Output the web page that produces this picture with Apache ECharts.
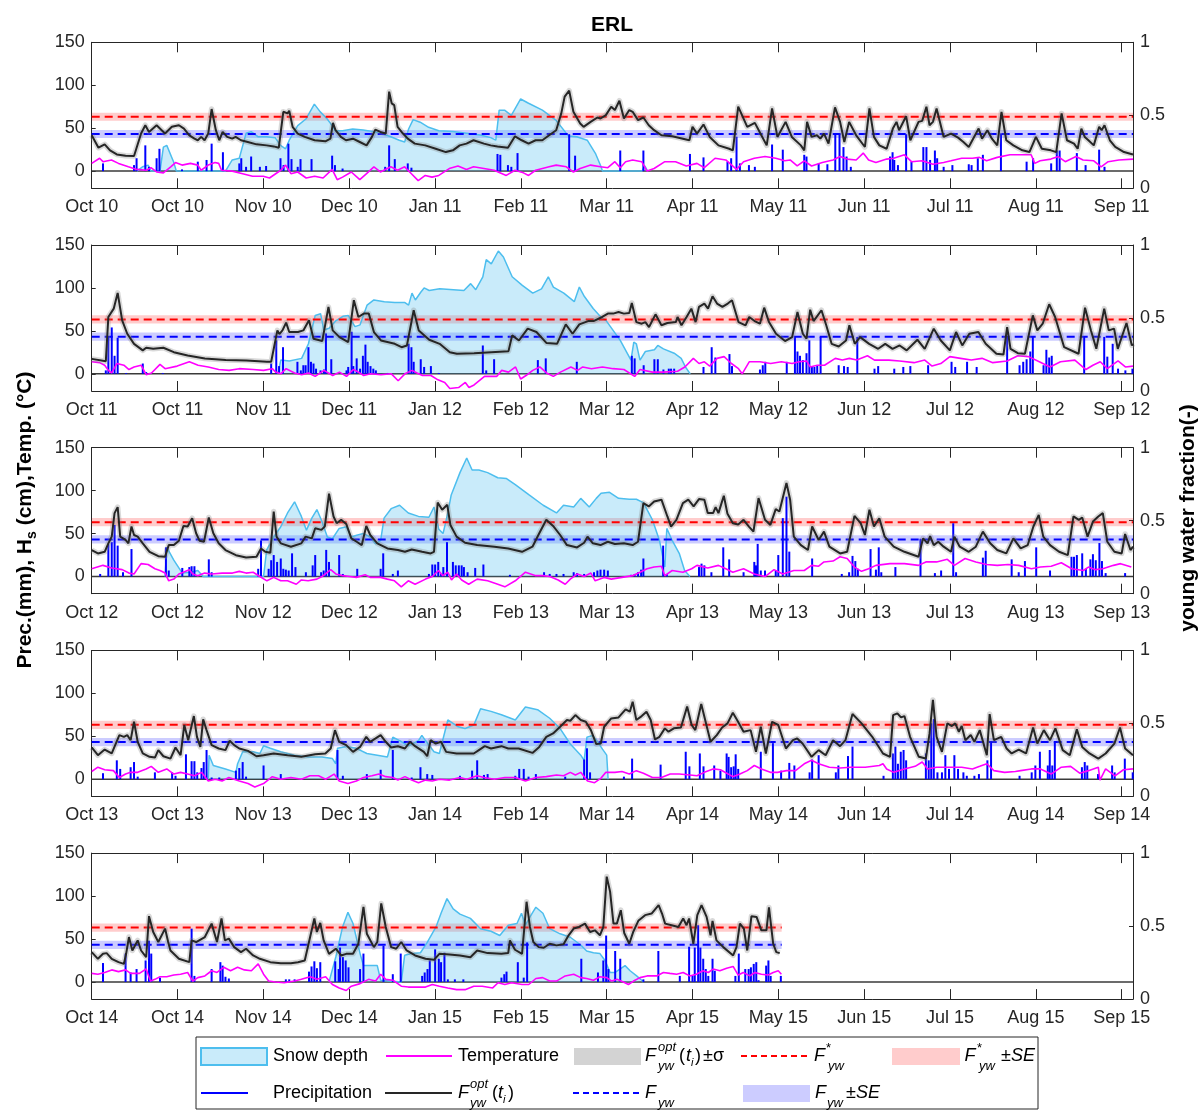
<!DOCTYPE html>
<html><head><meta charset="utf-8">
<script src="https://cdn.jsdelivr.net/npm/echarts@6.0.0/dist/echarts.min.js"></script>
<style>html,body{margin:0;padding:0;background:#fff}#c{width:1202px;height:1110px}</style>
</head><body><div id="c"></div><script>
// ---------- tick labels ----------
const labels1 = ['Oct 10','Oct 10','Nov 10','Dec 10','Jan 11','Feb 11','Mar 11','Apr 11','May 11','Jun 11','Jul 11','Aug 11','Sep 11'];
const labels2 = ['Oct 11','Oct 11','Nov 11','Dec 11','Jan 12','Feb 12','Mar 12','Apr 12','May 12','Jun 12','Jul 12','Aug 12','Sep 12'];
const labels3 = ['Oct 12','Oct 12','Nov 12','Dec 12','Jan 13','Feb 13','Mar 13','Apr 13','May 13','Jun 13','Jul 13','Aug 13','Sep 13'];
const labels4 = ['Oct 13','Oct 13','Nov 13','Dec 13','Jan 14','Feb 14','Mar 14','Apr 14','May 14','Jun 14','Jul 14','Aug 14','Sep 14'];
const labels5 = ['Oct 14','Oct 14','Nov 14','Dec 14','Jan 15','Feb 15','Mar 15','Apr 15','May 15','Jun 15','Jul 15','Aug 15','Sep 15'];
const leftTicks = [0, 50, 100, 150];
const rightTicks = [0, 0.5, 1];

// ---------- constant young water fractions ----------
const F_STAR = 0.49, F_STAR_SE = 0.028;
const F_YW = 0.372, F_YW_SE = 0.028;

// ---------- panel 1 (Oct 2010 - Sep 2011), x = day of hydrological year ----------
const fyw1 = [[0,0.363],[2.4,0.278],[4.6,0.301],[6.5,0.26],[8.9,0.232],[12,0.223],[15,0.221],[17.5,0.375],[19,0.432],[20.3,0.386],[23,0.432],[24.8,0.398],[26,0.375],[28.4,0.421],[30.9,0.432],[32.7,0.409],[34.6,0.363],[36.4,0.34],[37.6,0.329],[38.8,0.352],[40,0.329],[41.3,0.375],[42.5,0.543],[44,0.398],[45.2,0.329],[46.4,0.386],[48,0.352],[49.8,0.34],[51,0.352],[52.9,0.329],[55.3,0.317],[58.4,0.301],[62,0.294],[64.5,0.287],[66.3,0.278],[67.9,0.524],[69.4,0.513],[70,0.531],[71.2,0.421],[73,0.375],[75.5,0.352],[79,0.329],[82.8,0.322],[84.6,0.34],[85.5,0.448],[86.4,0.398],[88.3,0.352],[90.1,0.329],[92.6,0.34],[95,0.317],[97.4,0.294],[99.3,0.352],[100.5,0.402],[102.3,0.386],[104.2,0.375],[105.4,0.662],[106.3,0.582],[107.2,0.57],[108.4,0.421],[110.3,0.375],[112,0.34],[114.5,0.306],[118.2,0.294],[121.9,0.271],[125.5,0.248],[128,0.26],[130.4,0.294],[132.8,0.306],[135.3,0.329],[139,0.306],[141.4,0.294],[143.8,0.287],[147.5,0.278],[150,0.356],[152.4,0.329],[154.8,0.306],[157.3,0.329],[159.7,0.329],[162.1,0.363],[164.6,0.398],[166.4,0.513],[167.6,0.628],[169.2,0.669],[170.7,0.524],[173.1,0.444],[174.3,0.421],[176.8,0.455],[179.2,0.485],[180.3,0.478],[182.2,0.501],[184.1,0.559],[185.4,0.536],[187,0.6],[188.6,0.478],[190.5,0.536],[191.7,0.524],[193.6,0.467],[195.5,0.485],[197.4,0.432],[199.3,0.398],[201.9,0.363],[205.7,0.356],[209.5,0.34],[211.8,0.329],[212.9,0.421],[214.5,0.375],[216.8,0.437],[219,0.352],[222.1,0.294],[225.9,0.271],[227.2,0.26],[229.1,0.559],[232.3,0.421],[235,0.448],[237.3,0.363],[239.2,0.294],[241.1,0.547],[243,0.352],[245.9,0.455],[248.1,0.352],[251.3,0.294],[252.5,0.26],[253.5,0.455],[255.1,0.352],[257,0.363],[258.2,0.34],[259.5,0.375],[261.1,0.306],[263.4,0.554],[265.2,0.455],[266.7,0.317],[268.4,0.455],[270.9,0.363],[274,0.283],[275.6,0.547],[277.2,0.352],[279.1,0.294],[281.7,0.271],[283.9,0.409],[285.2,0.455],[286.1,0.398],[288.6,0.494],[290.1,0.329],[293,0.455],[294.3,0.462],[295.8,0.559],[296.9,0.432],[298.1,0.455],[299.4,0.547],[301.9,0.352],[304.5,0.375],[307,0.347],[308.9,0.317],[310.8,0.283],[314.3,0.409],[315.5,0.34],[317.4,0.398],[319,0.34],[320.9,0.294],[322.4,0.524],[324.1,0.329],[326.6,0.294],[329.8,0.26],[332.3,0.248],[334.6,0.352],[336.7,0.271],[339.9,0.26],[341.8,0.248],[343.7,0.513],[345.6,0.329],[348.1,0.306],[349.4,0.271],[350.7,0.409],[351.9,0.352],[353.2,0.329],[355.1,0.294],[357,0.421],[357.9,0.398],[358.9,0.432],[360.8,0.329],[362.7,0.283],[365.8,0.248],[369,0.232]];
const snow1 = [[16,0],[18,5],[20,7],[21,0],[24.2,0],[25.4,28],[26.6,30],[29,11],[30,0],[47.4,0],[49.8,13],[52.3,15],[54.7,44],[56.5,46],[59,40],[62,40],[65,39],[66.9,30],[68.7,26],[70,36],[73,53],[76,61],[78.9,78],[81,69],[83.4,61],[85.2,53],[86.4,47],[88.9,47],[92.5,49],[96.2,48],[99.9,46],[103.5,43],[106,40],[109,36],[110.9,34],[112.3,49],[113.9,60],[116.4,57],[119.4,51],[123,47],[128,46],[132.8,44],[137.7,42],[141.4,39],[143.2,36],[144.4,71],[146.3,71],[148.7,65],[152,84],[154.8,79],[159.7,71],[164.6,59],[168.9,41],[171.9,40],[175.6,36],[178.6,20],[180.5,5],[181,0],[195,0],[196,6],[197,0]];
const temp1 = [[0,9],[2.8,15],[4,11],[7,13],[9.5,9],[13,5],[16,2],[19.3,1],[21,4],[23,-1],[25.4,-2],[28,5],[29.7,10],[32,7],[35,9],[37.6,7],[38.8,1],[41.3,7],[43.7,10],[45,9],[46,1],[49.8,0],[53.5,-3],[57,-6],[60.8,-6],[63,-8],[67,1],[68.7,7],[70.6,-3],[73,-1],[76,-8],[79,-6],[82,-8],[85.2,2],[87,-10],[88.9,-7],[92,-1],[95,-10],[97.4,-3],[100,5],[102.3,-1],[106,5],[108.4,1],[110.9,5],[113.3,-3],[115.7,-11],[118.2,-5],[120.6,-7],[123,-5],[126.7,3],[129.8,6],[132.8,2],[135.3,5],[139,3],[142.6,1],[146.9,-5],[150,1],[153,-2],[154.8,-5],[157.3,1],[162.1,5],[164.6,7],[168.2,5],[170.7,-1],[173.1,3],[176.8,7],[180.3,5],[182.9,4],[185.4,11],[187.3,4],[189.2,11],[191.7,13],[194.9,11],[196.8,0],[199.3,3],[203.1,11],[206.9,11],[210.7,6],[214.5,9],[217.1,4],[220.9,15],[224.7,13],[228.5,2],[231,11],[234.8,15],[238.6,17],[242.4,15],[245.6,12],[247.5,13],[250,6],[252.5,12],[255.1,6],[258.9,10],[262.7,13],[265.2,17],[267.7,14],[270.9,13],[273.4,21],[275.3,13],[277.9,10],[281.7,14],[284.2,15],[288,19],[290.5,11],[294.3,12],[298.1,8],[301.9,10],[304.5,12],[308.3,15],[312.1,15],[314.6,16],[317.1,12],[320.9,16],[325.4,19],[329.8,19],[332.9,19],[334.2,9],[336.1,12],[339.9,14],[342.5,17],[345,11],[348.8,17],[351.3,13],[355.1,12],[357.7,5],[360.2,11],[364,13],[369,14]];
const prec1 = [[4,9],[15,7],[15.9,15],[19,30],[20.3,5],[23,15],[24,26],[32,2],[37.6,11],[40.7,13],[42.5,32],[46.5,22],[52.3,9],[53,15],[54.7,5],[56.5,17],[59.6,5],[61.8,6],[66.9,15],[68,7],[69.7,32],[70.8,14],[73,5],[74,14],[77.9,14],[85.2,18],[86.2,7],[88.9,3],[104,5],[105.4,30],[107.4,14],[112,9],[113.3,4],[143.8,20],[144.8,19],[147.5,7],[148.7,5],[150.9,21],[169.2,43],[171.3,18],[187.3,24],[195.5,24],[212,20],[216.8,16],[225.3,11],[226.6,15],[228.5,40],[229.7,9],[232.9,7],[235,5],[241.1,31],[244.9,25],[252.5,19],[253.3,17],[257.6,9],[260.7,8],[263.5,43],[265,43],[266.4,28],[267.5,17],[269,5],[282.9,17],[283.8,22],[284.4,13],[285.7,7],[288.6,43],[290.5,11],[294.7,28],[295.8,28],[297.1,13],[298.8,24],[299.6,15],[301.9,5],[305,7],[310.8,8],[311.8,7],[314,15],[315.8,19],[322.2,44],[331.3,11],[333.6,15],[340,9],[342,24],[343,24],[349.1,21],[352.2,7],[357,25],[358.9,5]];

// ---------- panel 2 (Oct 2011 - Sep 2012) ----------
const fyw2 = [[0,0.22],[5,0.204],[5.9,0.507],[7.8,0.564],[9.2,0.672],[10.8,0.484],[12.6,0.392],[15,0.323],[18.1,0.278],[19.3,0.296],[21.8,0.289],[25.4,0.296],[29.1,0.266],[34,0.243],[40.1,0.222],[47.5,0.213],[54.8,0.209],[62.1,0.2],[63.6,0.2],[65.8,0.415],[66.5,0.39],[67.6,0.415],[68.9,0.468],[70,0.404],[73.1,0.404],[75,0.415],[77,0.484],[78.6,0.358],[81.7,0.342],[83.9,0.576],[85.4,0.415],[87.8,0.369],[90.9,0.335],[92.9,0.622],[94.5,0.507],[96.4,0.53],[98.2,0.53],[100,0.404],[102.5,0.346],[107.4,0.323],[109.8,0.3],[111.7,0.312],[114.1,0.553],[115.9,0.415],[119.6,0.351],[123.3,0.323],[126.9,0.266],[129.4,0.255],[135.5,0.259],[141.6,0.266],[147.7,0.273],[149,0.381],[151.4,0.346],[154.5,0.427],[157.6,0.404],[161.2,0.328],[164.9,0.323],[168,0.456],[170.4,0.392],[172.8,0.456],[175.9,0.479],[178,0.48],[180.9,0.507],[182.9,0.53],[184.8,0.53],[186.7,0.541],[188.6,0.53],[190.5,0.534],[191.4,0.603],[193,0.472],[194.9,0.461],[196.2,0.472],[197.5,0.438],[199.8,0.525],[201.9,0.45],[204,0.466],[207,0.472],[207.6,0.507],[209,0.45],[210.8,0.507],[212.5,0.564],[214,0.472],[215.2,0.576],[217.1,0.599],[218.4,0.564],[220,0.649],[221.6,0.599],[223.5,0.576],[225.4,0.599],[226.9,0.622],[229.2,0.472],[231.7,0.45],[233,0.507],[234.9,0.479],[236.8,0.461],[238.3,0.571],[240,0.472],[242.5,0.392],[245.7,0.342],[248.2,0.369],[250.1,0.541],[252,0.392],[253.3,0.358],[254.6,0.557],[255.8,0.479],[258.6,0.553],[260.3,0.45],[262.2,0.323],[264.7,0.305],[267.3,0.346],[268.5,0.45],[270.4,0.323],[272.3,0.369],[275.5,0.323],[278.7,0.289],[281.2,0.323],[283.8,0.289],[286.3,0.312],[288.8,0.278],[292.6,0.351],[295.2,0.289],[298.4,0.427],[300.9,0.346],[304.1,0.278],[306.3,0.404],[308.5,0.312],[311,0.392],[314.2,0.404],[316.8,0.323],[320.6,0.255],[323.1,0.25],[324.4,0.438],[325.6,0.289],[328.2,0.259],[330.7,0.255],[333.5,0.518],[335.1,0.415],[337,0.461],[339.3,0.594],[341.4,0.507],[344.6,0.3],[349.7,0.255],[352,0.571],[354.1,0.415],[356,0.289],[358.8,0.564],[360.4,0.415],[362.3,0.427],[363.6,0.289],[366.7,0.466],[368.6,0.312],[369,0.323]];
const snow2 = [[66,0],[67,16],[70,15],[74.4,18],[76.8,35],[79.2,68],[81.1,70],[82.3,51],[84.1,53],[86.6,62],[89,67],[90.9,68],[93.3,55],[95.1,57],[97.6,80],[100,86],[103.7,84],[107.4,83],[111,83],[112.3,80],[113.5,94],[114.7,86],[116.6,95],[117.8,100],[119.6,97],[123.3,99],[128.2,98],[131.9,97],[134.3,105],[136.1,98],[138.6,113],[139.8,133],[141.6,128],[144.1,143],[145.9,136],[149,113],[152.6,103],[156.3,94],[159.4,99],[161.8,113],[163.6,101],[167.3,94],[171,84],[172.8,101],[174.6,90],[177.7,76],[180.5,66],[182.3,62],[187.3,39],[191.1,16],[192.1,37],[193,35],[194.3,16],[196.2,26],[199.4,28],[200.6,33],[202.6,29],[206.4,24],[208.9,18],[210.4,8],[212.1,0]];
const temp2 = [[0,14],[2.8,13],[4.6,10],[5.9,4],[7.1,1],[8.9,12],[11.4,10],[13.2,5],[15,8],[17.5,10],[19.3,-1],[21.2,1],[24.2,11],[26,6],[30.3,9],[34.6,14],[37.7,10],[41.3,8],[45,5],[48.7,4],[52.3,6],[57.2,5],[60.9,4],[64,6],[65.2,2],[67,0],[68.9,6],[71.9,1],[74.4,-1],[76.8,1],[79.2,-3],[82.3,4],[85.4,-2],[87.8,2],[90.3,-3],[92.7,5],[94.5,2],[96.4,-2],[98.8,0],[102.5,-1],[106.2,0],[108.6,-8],[111,0],[113.5,4],[115.3,1],[117.2,-2],[120.2,-2],[122.7,-7],[125.1,-10],[126.9,-17],[130,-16],[132.4,-10],[133.7,-16],[135.5,-13],[139.2,-3],[141.6,-3],[143.5,-3],[145.3,4],[147.7,2],[150.2,8],[152,-6],[153.9,-2],[156.3,4],[158.8,8],[161.2,1],[163.6,-3],[166.1,2],[169.8,8],[172.2,4],[174,8],[177.1,6],[181,8],[184.8,6],[188.6,5],[192.4,-3],[194.3,5],[198.7,2],[202.6,2],[207.6,3],[210.2,8],[213.2,18],[215.2,12],[217.1,14],[219,9],[221.6,18],[224.1,20],[226.7,12],[229.2,6],[230.5,0],[233,14],[236.8,14],[240.6,12],[244.4,14],[248.2,12],[250.7,14],[253.3,15],[254.6,8],[257.1,10],[259.7,10],[263.5,18],[266,16],[268.5,18],[271.1,16],[274.9,21],[277.4,16],[282.5,16],[286.3,15],[291.4,13],[295.2,16],[297.8,9],[300.9,12],[304.1,20],[307.9,18],[311.7,16],[315.5,18],[319.3,13],[324.4,15],[328.2,21],[332,20],[335.8,14],[339.6,8],[343.3,14],[348.4,16],[352.3,5],[354.8,10],[357.4,14],[359.9,6],[363.7,15],[366.3,8],[369,9]];
const prec2 = [[5,4],[5.9,43],[7.1,54],[8.1,21],[9.2,42],[12.2,1],[18.1,12],[19.3,2],[25.2,1],[63.6,12],[65.4,39],[66.4,9],[67.8,31],[72.9,14],[74.1,4],[75,10],[75.8,10],[76.8,31],[77.7,14],[78.6,12],[79.5,6],[81.1,4],[82.3,5],[83,47],[84.9,17],[90.3,4],[90.9,8],[92.1,49],[92.7,9],[93.9,18],[95.1,6],[96.1,21],[97,34],[97.8,14],[98.8,9],[99.8,6],[100.7,4],[104.9,1],[112.3,35],[113.3,31],[114.1,14],[116.6,17],[117.8,8],[120.2,9],[123,1],[138.6,33],[139.8,4],[142.6,17],[158.1,16],[160.9,18],[171.9,14],[191.4,21],[192.4,18],[195.6,10],[199.4,17],[200.6,17],[202.6,5],[204.5,6],[205.3,6],[206.4,6],[216.8,8],[219.7,31],[221,19],[226,23],[226.9,9],[236.8,5],[237.8,10],[238.7,14],[246.3,14],[249.2,43],[250.1,26],[251,21],[252,16],[253.3,24],[254.3,39],[255.2,8],[256.1,8],[257.1,10],[258.3,43],[264.7,10],[266.6,9],[267.9,8],[271.3,43],[277.4,6],[278.7,9],[284.4,6],[287.6,8],[290.1,9],[296.4,10],[304.7,14],[306,8],[310.2,14],[313.6,8],[324.4,43],[328.8,10],[330.1,14],[331.3,17],[332.6,26],[333.5,43],[337.3,10],[338.3,28],[339.3,19],[340.2,21],[351.7,43],[358.8,43],[359.9,20],[361.8,35],[363.7,6],[366.3,4],[368.8,6]];

// ---------- panel 3 (Oct 2012 - Sep 2013) ----------
const fyw3 = [[0,0.299],[2.2,0.276],[4.6,0.287],[5.9,0.345],[7.1,0.391],[8.1,0.552],[9.2,0.593],[10.1,0.391],[12,0.368],[13,0.345],[14.1,0.46],[15,0.402],[16.3,0.391],[18.1,0.345],[20.5,0.287],[23.6,0.257],[26,0.253],[27.3,0.333],[29.1,0.333],[30.9,0.363],[32.5,0.464],[34,0.46],[35.6,0.517],[37,0.414],[38.2,0.363],[39.8,0.356],[41.5,0.522],[43.1,0.414],[45,0.345],[47.4,0.299],[51.1,0.264],[54.7,0.248],[58.4,0.253],[60,0.31],[61.5,0.287],[63.3,0.28],[64.5,0.563],[65.5,0.391],[67,0.345],[70.6,0.322],[74.3,0.345],[75.8,0.391],[78,0.379],[79.2,0.448],[81.4,0.437],[82.6,0.46],[84.1,0.685],[85.7,0.529],[86.8,0.483],[88.4,0.506],[90.2,0.478],[92,0.379],[93.9,0.356],[95.7,0.333],[97.3,0.464],[98.7,0.402],[101.2,0.345],[104.8,0.31],[108.5,0.299],[111,0.287],[113.4,0.303],[117.1,0.287],[120.1,0.276],[121.3,0.287],[122.6,0.625],[124.2,0.575],[126,0.609],[127.1,0.471],[129.3,0.391],[132.3,0.349],[136.6,0.333],[142.7,0.322],[147.6,0.31],[152.5,0.287],[156.2,0.322],[158.6,0.414],[161.1,0.506],[163.5,0.464],[166,0.402],[168.4,0.333],[172,0.317],[174.5,0.349],[175.7,0.391],[177.6,0.345],[180.3,0.333],[182.9,0.356],[185.4,0.34],[188.6,0.345],[191.7,0.333],[193.6,0.356],[195.5,0.621],[197.4,0.598],[199.3,0.632],[201.9,0.644],[204,0.529],[205.3,0.46],[207.2,0.506],[209.5,0.621],[211.4,0.644],[213.3,0.598],[215.2,0.648],[217.1,0.644],[218.3,0.552],[220.2,0.552],[221.1,0.593],[222.1,0.552],[224,0.671],[225.3,0.547],[227.2,0.483],[229.1,0.474],[231,0.506],[232.9,0.46],[234.5,0.425],[236.3,0.655],[238.6,0.506],[240.5,0.471],[242.4,0.579],[243.7,0.563],[246.2,0.759],[247.5,0.644],[248.8,0.391],[251.3,0.333],[253.8,0.299],[255.3,0.46],[257.6,0.368],[259.5,0.425],[261.4,0.322],[265.2,0.276],[267.7,0.287],[270.3,0.533],[272.5,0.483],[274,0.402],[275.6,0.575],[277.2,0.46],[279.1,0.517],[281,0.391],[284.2,0.322],[288,0.287],[293,0.253],[294.6,0.379],[296.2,0.345],[297.1,0.395],[298.4,0.333],[300,0.356],[301.9,0.322],[304.5,0.287],[305.7,0.391],[307.6,0.322],[310.8,0.287],[313.3,0.322],[315.8,0.425],[318.4,0.345],[320.9,0.299],[324.1,0.276],[326.6,0.379],[329.2,0.31],[331.7,0.333],[333.7,0.46],[335.6,0.54],[337.2,0.391],[339.6,0.333],[342.8,0.287],[345.9,0.264],[347.9,0.529],[349.8,0.506],[351,0.522],[352.9,0.391],[354.8,0.494],[356.7,0.529],[358.3,0.552],[359.9,0.356],[362.4,0.287],[365,0.276],[366.2,0.409],[368.1,0.299],[369,0.322]];
const snow3 = [[26,0],[26.6,34],[29.1,19],[32.1,4],[35.2,5],[37.6,7],[39.5,0],[60.9,0],[62,31],[64.5,46],[67,58],[69.4,74],[71.9,87],[74.3,70],[76.1,54],[78,68],[79.8,78],[81.6,64],[83.5,46],[85.3,44],[87.7,56],[90.2,58],[92,46],[93.9,48],[96.3,50],[98.7,46],[100.6,38],[102.4,42],[103.6,68],[106.1,79],[109.1,83],[112.2,74],[115.8,70],[119.5,69],[121.3,81],[123,55],[124.5,50],[126.2,74],[127.4,95],[130.5,121],[132.9,138],[134.8,124],[137.2,124],[140.3,121],[143.9,115],[147,114],[150.1,107],[155,95],[160,83],[164.7,74],[167.2,83],[170.8,81],[173.3,91],[176.3,81],[178.8,91],[180.5,97],[183.5,98],[186.7,91],[190.5,90],[193,90],[195.5,86],[198.7,66],[201.2,42],[203.1,11],[203.8,56],[205.7,42],[208.2,27],[210.1,7],[212,0]];
const temp3 = [[0,9],[4,13],[7.1,10],[10.8,8],[13.2,4],[15,3],[17.5,15],[20,14],[22.4,9],[24.2,7],[26,4],[27.3,-5],[29.1,-3],[30.9,3],[34.6,8],[35.8,3],[37.6,1],[40,4],[42.5,3],[46.2,4],[49.9,4],[52.3,6],[54.7,4],[57.2,5],[59.6,0],[62.1,-5],[64.5,-1],[67,-5],[69.4,-5],[72.5,-9],[74.3,-4],[76.7,-5],[79.8,-3],[81.6,0],[84.7,8],[86.5,3],[89,1],[91.4,0],[93.8,-1],[96.9,2],[98.7,-1],[102.4,-1],[104.8,-3],[107.3,-5],[109.7,-12],[112.2,-5],[114.6,-9],[118.3,-3],[120.7,0],[122.9,7],[124.4,1],[126.2,5],[127.5,-4],[129.3,3],[131.1,-4],[133.6,-9],[136.6,-3],[140.3,-5],[143.9,-9],[146.4,-12],[150.1,-5],[153.7,5],[157.4,1],[159.8,1],[162.3,0],[165.3,-4],[167.8,-9],[169.6,-3],[172.1,3],[174.5,0],[176.9,4],[178.4,-5],[181.6,-1],[184.1,-3],[187.9,-1],[191.7,1],[194.3,5],[196.8,9],[199.3,11],[201.9,12],[203.1,1],[205.7,7],[209.5,5],[212.6,9],[214.5,13],[218.3,10],[222.1,13],[224.7,9],[227.2,5],[231,9],[234.8,3],[238.6,0],[241.8,8],[244.9,3],[248.8,7],[252.5,7],[255.1,13],[257.6,12],[259.5,17],[262.7,18],[265.2,23],[267.7,21],[270.3,11],[272.8,6],[275.3,9],[277.9,13],[282.9,15],[288,15],[293,13],[295.6,17],[299.4,17],[303.2,20],[305.7,13],[309.5,21],[313.3,17],[317.1,14],[320.9,13],[324.7,14],[328.5,13],[333,9],[336.2,11],[340,12],[343.6,16],[347.3,9],[351.4,7],[353.2,11],[355.7,8],[358.3,9],[362.1,13],[364.6,15],[368.4,11]];
const prec3 = [[3,3],[5.9,38],[7.1,40],[8.1,60],[9.2,36],[11.1,5],[14.1,32],[26.3,34],[27.3,7],[32.1,10],[34.6,11],[35.4,12],[36.4,12],[41.5,20],[42.5,5],[59,9],[60,42],[62.7,9],[63.6,19],[64.5,25],[65.7,17],[67,21],[67.9,9],[68.8,8],[69.8,7],[71,27],[72.2,11],[75.9,5],[78.3,13],[79.2,25],[81.3,5],[82.2,7],[83.1,31],[84.1,17],[87.7,25],[89,3],[94.1,9],[102.4,9],[103.3,27],[106.7,3],[108.5,7],[119.5,3],[120.7,14],[121.7,14],[122.8,17],[123.8,3],[124.6,11],[125.9,40],[128,17],[129,13],[130.1,13],[131.1,13],[131.9,11],[133.2,5],[135.9,10],[138.8,14],[148.2,2],[160.3,5],[162.3,3],[164.7,3],[167.2,3],[170.8,5],[172,4],[174.5,3],[178,5],[179.2,7],[180.3,8],[181.6,8],[182.9,7],[191.1,2],[192.4,3],[193.6,5],[194.7,8],[195.5,21],[202.5,36],[203.8,3],[215.2,11],[216.1,15],[217.1,13],[219.6,5],[223.8,34],[225.9,20],[231,5],[234.8,17],[235.4,13],[236,38],[237.1,7],[238.6,7],[242.4,7],[243.3,25],[244.9,68],[246.2,93],[247.2,29],[255.3,21],[265.8,3],[268.4,5],[269.6,24],[270.6,18],[271.5,9],[276,32],[277.9,8],[278.9,34],[279.8,5],[284.8,11],[293.7,44],[298.8,4],[301,7],[305.3,62],[306.3,5],[315.8,22],[316.8,30],[326,20],[328.5,5],[330.7,18],[334.7,34],[339.6,7],[347.2,23],[348.1,23],[349.1,25],[351,27],[352.3,9],[353.9,20],[354.8,26],[355.8,19],[357.1,39],[358,18],[359.3,4],[366.2,4]];

// ---------- panel 4 (Oct 2013 - Sep 2014) ----------
const fyw4 = [[0,0.335],[2.2,0.282],[4.6,0.321],[7.1,0.294],[9.8,0.42],[11.4,0.408],[12.6,0.42],[13.8,0.385],[15,0.511],[16.3,0.374],[18.1,0.294],[20.5,0.271],[22.4,0.266],[23.6,0.317],[25.4,0.275],[27.9,0.259],[29.7,0.335],[31.5,0.282],[32.8,0.489],[34.2,0.385],[36.2,0.55],[37.3,0.408],[38.5,0.339],[39.5,0.528],[40.7,0.454],[42.5,0.351],[45,0.328],[47.4,0.317],[48.9,0.381],[50.5,0.351],[52.3,0.328],[55.4,0.312],[58.4,0.275],[60.9,0.282],[64.5,0.294],[69.4,0.282],[74.3,0.271],[79.2,0.289],[82.8,0.294],[84.7,0.328],[86.2,0.454],[87.7,0.374],[90.2,0.351],[92.6,0.305],[95.1,0.339],[97.3,0.408],[98.7,0.374],[100.6,0.397],[102.4,0.42],[104.2,0.374],[106.1,0.335],[108.5,0.344],[111,0.328],[112.8,0.374],[114.6,0.344],[117.7,0.305],[118.9,0.275],[120.1,0.385],[121.9,0.362],[123.8,0.374],[125.6,0.305],[129.3,0.294],[135.4,0.294],[137.2,0.317],[139.3,0.344],[141.5,0.328],[145.2,0.344],[147.6,0.328],[151.3,0.328],[156.2,0.298],[158.6,0.339],[161.1,0.408],[163.5,0.431],[166,0.477],[168.4,0.523],[169.6,0.518],[171.4,0.557],[173.3,0.523],[175.1,0.511],[176.9,0.454],[178.8,0.358],[180.4,0.362],[181.6,0.477],[184.1,0.534],[186.7,0.541],[189.2,0.596],[190.7,0.58],[191.7,0.649],[193,0.523],[194.9,0.55],[196.6,0.58],[198.1,0.523],[199.6,0.39],[201.2,0.408],[203.1,0.466],[204.4,0.443],[206.3,0.466],[208.8,0.472],[211,0.615],[212.6,0.489],[213.9,0.454],[216,0.633],[217.7,0.5],[219.3,0.374],[221.5,0.42],[223.4,0.472],[225.3,0.5],[227.2,0.573],[228.7,0.523],[231,0.443],[233.5,0.454],[235.4,0.305],[237.1,0.477],[238.9,0.294],[241.1,0.511],[243.3,0.489],[246,0.328],[248.5,0.385],[250,0.397],[251.9,0.362],[255.1,0.271],[257.6,0.317],[260.1,0.282],[262.7,0.385],[265.2,0.344],[267.1,0.385],[269.6,0.564],[272.8,0.5],[276.6,0.408],[280.4,0.294],[282.9,0.271],[284,0.557],[285.5,0.569],[286.8,0.541],[288,0.55],[290,0.408],[293.1,0.271],[295.6,0.259],[296.9,0.431],[298.1,0.661],[299.4,0.408],[301.3,0.305],[303.2,0.5],[304.8,0.482],[306,0.5],[307.3,0.443],[308.3,0.482],[309.6,0.385],[311.5,0.42],[312.8,0.374],[314.7,0.454],[317.2,0.282],[318.2,0.564],[319.7,0.385],[322.3,0.408],[324.2,0.328],[326,0.294],[328.5,0.321],[331.1,0.294],[333.6,0.472],[335.1,0.362],[337.4,0.454],[339.6,0.385],[341.5,0.466],[344.1,0.317],[346.6,0.282],[349.1,0.459],[351,0.339],[353.6,0.294],[356.7,0.259],[359.3,0.294],[362.4,0.362],[364.4,0.472],[366.2,0.328],[369,0.282]];
const snow4 = [[41.3,0],[41.6,28],[43.1,16],[47.4,12],[51.1,8],[51.7,18],[53.5,32],[57.2,32],[59.6,30],[60.9,39],[63.3,36],[67,32],[71.9,28],[76.7,26],[81.6,26],[85.3,24],[86.5,18],[87.1,36],[90.2,38],[93.8,36],[97.5,30],[101.2,28],[104.8,26],[106.7,49],[109.1,45],[112.2,39],[115.8,45],[117,51],[118.3,45],[121.3,32],[123.2,30],[126.2,69],[129.9,61],[132.3,59],[135.4,63],[137.8,82],[141.5,79],[145.2,75],[150.1,69],[153.7,84],[158,81],[162.3,71],[166,59],[169.6,41],[173.3,28],[174.5,22],[175.5,49],[177.5,51],[179.4,43],[181,35],[182.5,28],[183,0]];
const temp4 = [[0,9],[2.2,14],[4.6,11],[7.7,10],[9.8,2],[12,6],[13.8,8],[16.3,8],[19.3,12],[21.1,15],[23.6,8],[26.6,12],[29.1,6],[31.5,8],[34,6],[36.4,4],[38.9,8],[41.3,-2],[43.8,0],[46.2,-2],[48.6,2],[52.3,-2],[55.4,-5],[57.8,-9],[60.9,-5],[64,3],[67,0],[70.6,2],[74.3,0],[77.3,4],[80.4,4],[82.9,0],[85.9,6],[87.7,-2],[90.8,-5],[93.8,-2],[96.3,2],[99.3,4],[101.8,6],[104.2,3],[106.7,2],[108.5,-1],[111,3],[113.4,-1],[115.8,-4],[118.3,-1],[120.7,-2],[123.2,0],[126.8,-1],[130.5,2],[132.9,0],[136.6,4],[139,2],[142.7,0],[146.4,2],[150.1,2],[153.7,-2],[157.4,2],[161.1,3],[164.7,5],[167.2,4],[169.6,8],[171.4,5],[173.3,8],[175.7,-2],[178.2,-4],[180.4,1],[182.2,8],[185.4,8],[187.9,9],[190.5,6],[193,10],[195.5,7],[198.7,2],[201.9,2],[205,6],[208.2,6],[212,5],[214.5,4],[217.1,8],[220.2,12],[222.8,11],[227.2,3],[229.7,6],[232.3,10],[234.8,16],[237.3,12],[240.5,8],[243,8],[246.2,10],[249.4,10],[252.5,18],[255.1,22],[257.6,18],[261.4,14],[265.2,13],[269,14],[274.1,14],[279.1,16],[280.4,18],[281.7,12],[284.2,8],[288,12],[291.8,15],[294.3,20],[296.2,12],[299.4,14],[303.2,14],[308.3,14],[312.1,12],[314.7,15],[317.2,18],[319.7,10],[323.5,8],[327.3,9],[329.2,10],[333,12],[336.2,12],[340,6],[343.6,14],[346.9,15],[350.1,7],[353.2,10],[356.7,14],[357.3,-1],[359.3,12],[362.6,4],[365.6,11],[369,12]];
const prec4 = [[4,7],[8.9,22],[10.1,12],[13.8,14],[15,20],[16.3,3],[22.4,8],[28.5,8],[29.7,4],[33.4,29],[35.4,21],[36.4,21],[37.4,8],[38.9,13],[39.7,20],[40.7,34],[42.5,2],[45.2,2],[51.1,10],[52.3,13],[53.5,20],[54.7,3],[60.9,16],[67,6],[87.1,34],[89,4],[97.5,6],[102.4,11],[106.7,34],[113.4,2],[116.5,14],[118.9,6],[120.7,5],[130.5,4],[134.8,10],[136.6,22],[139,5],[140.3,6],[150.1,4],[151.5,12],[153.1,12],[154.8,3],[157.4,6],[167.8,3],[174.5,23],[175.5,36],[176.6,8],[188.6,3],[191.5,24],[201.6,17],[210.5,32],[211.8,15],[215.5,30],[216.8,15],[220.6,16],[222.8,10],[225,30],[225.7,26],[226.6,14],[227.5,15],[228.2,29],[229.1,12],[237.1,32],[241.4,42],[244.3,10],[247.2,19],[249,16],[254.4,8],[255.3,23],[257.6,28],[263.7,8],[264.6,16],[268,27],[269.6,38],[280.6,4],[283.9,30],[284.8,38],[285.7,18],[286.7,32],[287.7,34],[288.6,22],[295.6,30],[296.6,22],[297.5,65],[298.4,70],[299.7,8],[301.3,8],[302.5,28],[303.8,12],[305.7,28],[307,12],[308.9,8],[310.1,4],[312.8,4],[314.4,6],[317.4,22],[318.7,43],[328.8,4],[333.1,8],[334.4,16],[336,32],[338.8,16],[339.5,34],[340.4,16],[341.3,43],[350.9,14],[351.9,20],[352.8,16],[356.6,6],[361.6,16],[362.5,8],[366.1,24],[368.9,8]];

// ---------- panel 5 (Oct 2014 - May 2015) ----------
const fyw5 = [[0,0.322],[2.2,0.276],[4,0.31],[5.3,0.315],[7.1,0.276],[9.5,0.253],[11.4,0.241],[12.2,0.31],[13.2,0.425],[14.4,0.333],[16.3,0.402],[17.5,0.333],[19.3,0.287],[20.3,0.568],[21.8,0.46],[23.6,0.391],[26,0.483],[27.1,0.391],[27.9,0.333],[30.9,0.276],[34.6,0.253],[35.4,0.402],[37,0.391],[40.1,0.425],[42.5,0.517],[44.4,0.391],[46,0.552],[47.2,0.402],[48.6,0.414],[50.5,0.356],[52.9,0.322],[54.7,0.345],[57.2,0.299],[59.6,0.276],[63.3,0.253],[67,0.246],[70.6,0.246],[73.1,0.253],[75.5,0.264],[77.4,0.425],[78.9,0.552],[79.8,0.46],[81,0.522],[82.2,0.402],[84.1,0.31],[86.5,0.345],[88.4,0.299],[90.2,0.31],[92.6,0.31],[94.5,0.379],[96.3,0.632],[97.5,0.448],[100,0.356],[101.2,0.391],[102.6,0.655],[104.2,0.494],[106.1,0.356],[107.9,0.345],[109.7,0.391],[111.6,0.333],[114.6,0.299],[118.3,0.276],[121.3,0.269],[123.2,0.31],[126.8,0.306],[130.5,0.299],[134.2,0.287],[136.6,0.333],[140.3,0.315],[145.2,0.31],[147.6,0.315],[148.2,0.402],[150,0.338],[152.5,0.31],[154.1,0.667],[155.3,0.494],[156.5,0.391],[158.4,0.356],[160.2,0.352],[162.3,0.379],[164.7,0.368],[167.2,0.375],[169,0.437],[170.8,0.483],[172.7,0.494],[174.8,0.517],[176.6,0.46],[178.3,0.471],[180.1,0.437],[181.3,0.494],[182.5,0.839],[183.7,0.736],[184.9,0.517],[186.1,0.517],[187.5,0.609],[188.7,0.453],[190.5,0.379],[191.9,0.46],[193.7,0.536],[196.1,0.575],[198.4,0.586],[200.9,0.644],[202.1,0.586],[203.2,0.517],[205.5,0.506],[207.9,0.494],[209.6,0.552],[210.8,0.506],[211.7,0.552],[213.2,0.379],[214.6,0.575],[216.1,0.644],[217.9,0.563],[219.3,0.437],[220,0.536],[221.4,0.402],[223.8,0.356],[227.3,0.299],[228.5,0.356],[229.7,0.517],[231.1,0.483],[232.3,0.333],[233.8,0.568],[235.6,0.563],[237.3,0.471],[239.1,0.471],[240,0.628],[241.5,0.379],[242.6,0.322],[243.8,0.315]];
const snow5 = [[84.1,0],[86.5,29],[88.9,64],[90.8,81],[92.6,68],[95.1,33],[96.3,19],[98.7,19],[101.2,19],[102.4,2],[103,0],[109.7,0],[110.9,31],[113.4,33],[116.5,34],[118.9,46],[122,64],[123.8,80],[125.9,97],[128.1,85],[130.5,79],[134.2,74],[137.8,62],[141.5,59],[144.6,54],[147.6,66],[150.7,68],[152.3,80],[153.7,66],[155,74],[157.4,87],[159.9,80],[162.3,62],[166,56],[169.6,52],[173.3,43],[175.4,36],[177.8,34],[180.1,33],[181.9,25],[183.7,11],[185.5,11],[187.2,15],[189,19],[190.8,13],[193.1,7],[194.9,2],[195.5,0]];
const temp5 = [[0,10],[2.2,9],[4.6,11],[7.1,14],[9.5,12],[12,14],[13.8,10],[16.9,10],[19.3,15],[20.8,1],[22.4,3],[24.2,6],[26.6,6],[29.1,8],[31.5,9],[34,11],[35.8,1],[37.6,5],[40.1,7],[42.5,13],[44.4,11],[46.8,17],[49.2,13],[51.7,17],[54.1,14],[56.6,13],[59,21],[60.9,9],[62.7,1],[65.1,0],[68.2,-1],[71.9,1],[74.3,3],[77.4,6],[79.8,3],[82.9,6],[85.3,-3],[87.7,-7],[90.2,-10],[92,-5],[95.1,-2],[98.1,3],[100.6,1],[102.4,9],[104.2,3],[106.7,2],[109.7,-5],[112.2,-6],[115.8,-6],[118.3,-6],[120.7,-3],[123.2,-5],[126.2,-7],[129.3,-9],[132.3,-9],[135.4,-5],[138.4,-5],[142.1,-7],[144,-1],[146.4,-3],[148.8,-1],[152.5,-3],[154.9,-3],[157.4,4],[159.8,5],[162.3,1],[164.7,1],[167.8,7],[170.8,9],[173.3,5],[175.4,4],[177.8,2],[180.1,6],[182.5,5],[184.3,1],[186.1,3],[188.4,0],[190.2,-3],[192,1],[194.3,5],[196.8,7],[200.2,7],[202.6,11],[204.9,10],[207.3,9],[209.6,11],[211.9,7],[214.3,9],[216.6,13],[218.5,11],[220.2,15],[222.6,13],[225,16],[227.3,18],[229.1,8],[230.9,11],[233.2,7],[235,11],[237.3,9],[239.7,8],[241.5,11],[243.3,13],[244.4,9]];
const prec5 = [[4,22],[12,33],[13.8,11],[15.9,15],[19.1,25],[20.3,48],[21.1,33],[24.2,5],[35.4,62],[36.4,7],[42.5,15],[45.6,23],[46.4,19],[47.4,6],[48.6,4],[68.8,3],[70,3],[71.9,3],[77,12],[77.9,18],[78.9,24],[79.8,16],[81,23],[86.3,24],[87.5,15],[88,40],[89,29],[90,25],[91,17],[95.1,15],[96.3,33],[103.4,42],[106.7,9],[109.5,33],[117.1,7],[118,11],[119,15],[119.8,25],[121.7,38],[123,27],[123.8,23],[125,34],[126.2,3],[128.7,3],[131.7,3],[145.2,5],[146.2,9],[147,12],[151,23],[153.1,5],[154.3,46],[173.5,27],[179.4,11],[181.3,25],[182.3,54],[183.1,15],[185.5,36],[187.3,27],[195.5,3],[200.8,36],[208.4,7],[211.7,41],[212.9,7],[213.7,40],[214.9,66],[215.7,40],[216.7,27],[217.6,15],[218.5,7],[220,27],[220.8,13],[228.1,7],[229.3,33],[231.6,15],[232.8,15],[233.6,17],[234.6,21],[235.5,23],[236.3,2],[239,19],[239.8,25],[240.6,7],[244.2,7]];

const periodEnd = [369, 369, 369, 369, 244.5];

// ---------- build chart ----------
const FF = '"Liberation Sans", Arial, Helvetica, sans-serif';
const AX = '#262626';
const TICK_STEP = 365 / 12;
const X_MAX = 369;
const xTicks = labels1.map((_, i) => i * TICK_STEP);

const panels = [
  {labels: labels1, fyw: fyw1, snow: snow1, temp: temp1, prec: prec1},
  {labels: labels2, fyw: fyw2, snow: snow2, temp: temp2, prec: prec2},
  {labels: labels3, fyw: fyw3, snow: snow3, temp: temp3, prec: prec3},
  {labels: labels4, fyw: fyw4, snow: snow4, temp: temp4, prec: prec4},
  {labels: labels5, fyw: fyw5, snow: snow5, temp: temp5, prec: prec5}
];

const grid = [], xAxis = [], yAxis = [], series = [];
panels.forEach((p, k) => {
  const end = periodEnd[k];
  grid.push({left: 91.7, right: 69, top: 42.3 + 202.7 * k, height: 146});
  const lbl = p.labels;
  xAxis.push({type: 'value', gridIndex: k, min: 0, max: X_MAX, position: 'bottom',
    axisLine: {onZero: false, lineStyle: {color: AX, width: 1}},
    axisTick: {inside: true, length: 10, customValues: xTicks, lineStyle: {color: AX}},
    axisLabel: {customValues: xTicks, formatter: v => lbl[Math.round(v / TICK_STEP)] || '',
      color: AX, fontSize: 18, fontFamily: FF, margin: 10},
    splitLine: {show: false}});
  xAxis.push({type: 'value', gridIndex: k, min: 0, max: X_MAX, position: 'top',
    axisLine: {onZero: false, lineStyle: {color: AX, width: 1}},
    axisTick: {inside: true, length: 10, customValues: xTicks, lineStyle: {color: AX}},
    axisLabel: {show: false}, splitLine: {show: false}});
  yAxis.push({type: 'value', gridIndex: k, min: -20, max: 150, position: 'left',
    axisLine: {show: true, onZero: false, lineStyle: {color: AX, width: 1}},
    axisTick: {inside: true, length: 4, customValues: leftTicks, lineStyle: {color: AX}},
    axisLabel: {customValues: leftTicks, color: AX, fontSize: 18, fontFamily: FF, margin: 7},
    splitLine: {show: false}});
  yAxis.push({type: 'value', gridIndex: k, min: 0, max: 1, position: 'right',
    axisLine: {show: true, onZero: false, lineStyle: {color: AX, width: 1}},
    axisTick: {inside: true, length: 4, customValues: rightTicks, lineStyle: {color: AX}},
    axisLabel: {customValues: rightTicks, formatter: v => String(v), color: AX, fontSize: 18, fontFamily: FF, margin: 7},
    splitLine: {show: false}});

  const xi = 2 * k, yl = 2 * k, yr = 2 * k + 1;
  const common = {xAxisIndex: xi, symbol: 'none', silent: true, animation: false};
  series.push(Object.assign({type: 'line', yAxisIndex: yl, z: 1,
    data: [[0, 0], [X_MAX, 0]], lineStyle: {color: '#3a3a3a', width: 1.5}}, common));
  series.push(Object.assign({type: 'line', yAxisIndex: yl, z: 2, data: p.snow,
    lineStyle: {color: '#4DBEEE', width: 1.5},
    areaStyle: {color: 'rgba(77,190,238,0.3)', opacity: 1}}, common));
  series.push(Object.assign({type: 'line', yAxisIndex: yr, z: 3,
    data: [[0, F_STAR], [end, F_STAR]],
    lineStyle: {color: '#ff0000', width: 2, type: [8, 5]},
    markArea: {silent: true, itemStyle: {color: 'rgba(255,0,0,0.2)'},
      data: [[{xAxis: 0, yAxis: F_STAR - F_STAR_SE}, {xAxis: end, yAxis: F_STAR + F_STAR_SE}]]}}, common));
  series.push(Object.assign({type: 'line', yAxisIndex: yr, z: 3,
    data: [[0, F_YW], [end, F_YW]],
    lineStyle: {color: '#0000ff', width: 2, type: [8, 5]},
    markArea: {silent: true, itemStyle: {color: 'rgba(0,0,255,0.2)'},
      data: [[{xAxis: 0, yAxis: F_YW - F_YW_SE}, {xAxis: end, yAxis: F_YW + F_YW_SE}]]}}, common));
  series.push(Object.assign({type: 'bar', yAxisIndex: yl, z: 4, data: p.prec,
    barWidth: 2, itemStyle: {color: '#0000ff'}}, common));
  series.push(Object.assign({type: 'line', yAxisIndex: yl, z: 5, data: p.temp,
    lineStyle: {color: '#ff00ff', width: 1.6}}, common));
  series.push(Object.assign({type: 'line', yAxisIndex: yr, z: 6, data: p.fyw,
    lineStyle: {color: 'rgba(128,128,128,0.3)', width: 5.5, join: 'round'}}, common));
  series.push(Object.assign({type: 'line', yAxisIndex: yr, z: 7, data: p.fyw,
    lineStyle: {color: '#262626', width: 2}}, common));
});

// ---------- text & legend graphics ----------
function txt(x, y, text, font, extra) {
  return {type: 'text', x: x, y: y, silent: true, z: 100,
    style: Object.assign({text: text, fill: '#000', font: font,
      textAlign: 'left', textVerticalAlign: 'middle', align: 'left', verticalAlign: 'middle'}, extra || {})};
}
const N18 = '18px ' + FF, I18 = 'italic 18px ' + FF, I13 = 'italic 13px ' + FF, N13 = '13px ' + FF, I11 = 'italic 11px ' + FF;
const g = [];
g.push(txt(612, 25, 'ERL', 'bold 21px ' + FF, {textAlign: 'center', align: 'center'}));
g.push({type: 'text', x: 25, y: 520, rotation: Math.PI / 2, silent: true, z: 100,
  style: {text: '{a|Prec.(mm), H}{s|s}{a| (cm),Temp. (°C)}',
    rich: {a: {fontSize: 21, fontWeight: 'bold', fontFamily: FF, lineHeight: 28, fill: '#000', color: '#000'},
           s: {fontSize: 14, fontWeight: 'bold', fontFamily: FF, lineHeight: 14, verticalAlign: 'bottom', fill: '#000', color: '#000'}},
    textAlign: 'center', textVerticalAlign: 'middle', align: 'center', verticalAlign: 'middle'}});
g.push(txt(1188, 518, 'young water fraction(-)', 'bold 21px ' + FF, {textAlign: 'center', align: 'center'}));
g[g.length - 1].rotation = Math.PI / 2;

// legend box
g.push({type: 'rect', z: 90, silent: true, shape: {x: 196, y: 1037, width: 842, height: 72},
  style: {fill: '#fff', stroke: AX, lineWidth: 1}});
const r1 = 1056, r2 = 1093;
function patch(x, y, w, fill, stroke) {
  return {type: 'rect', z: 95, silent: true, shape: {x: x, y: y - 8, width: w, height: 17},
    style: {fill: fill, stroke: stroke || null, lineWidth: stroke ? 2 : 0}};
}
function seg(x1, x2, y, color, dash) {
  return {type: 'line', z: 95, silent: true, shape: {x1: x1, y1: y, x2: x2, y2: y},
    style: {stroke: color, lineWidth: 2, lineDash: dash || null}};
}
g.push(patch(201, r1, 66, 'rgba(77,190,238,0.3)', '#4DBEEE'));
g.push(txt(273, r1, 'Snow depth', N18));
g.push(seg(386, 452, r1, '#ff00ff'));
g.push(txt(458, r1, 'Temperature', N18));
g.push(patch(574, r1, 67, 'rgba(128,128,128,0.35)'));
g.push(txt(645, r1, 'F', I18), txt(658, r1 - 9, 'opt', I13), txt(658, r1 + 10, 'yw', I13),
  txt(679, r1, '(', N18), txt(686, r1, 't', I18), txt(691, r1 + 7, 'i', I11), txt(695, r1, ')', N18), txt(703, r1, '±σ', N18));
g.push(seg(741, 809, r1, '#ff0000', [6, 4]));
g.push(txt(814, r1, 'F', I18), txt(826, r1 - 8, '*', N13), txt(828, r1 + 10, 'yw', I13));
g.push(patch(892, r1, 68, 'rgba(255,0,0,0.2)'));
g.push(txt(964.5, r1, 'F', I18), txt(977, r1 - 8, '*', N13), txt(979, r1 + 10, 'yw', I13), txt(1001, r1, '±SE', I18));

g.push(seg(201, 248, r2, '#0000ff'));
g.push(txt(273, r2, 'Precipitation', N18));
g.push(seg(385, 452, r2, '#262626'));
g.push(txt(458, r2, 'F', I18), txt(470, r2 - 9, 'opt', I13), txt(470, r2 + 10, 'yw', I13),
  txt(492, r2, '(', N18), txt(498, r2, 't', I18), txt(503, r2 + 7, 'i', I11), txt(508, r2, ')', N18));
g.push(seg(573, 641, r2, '#0000ff', [6, 4]));
g.push(txt(645, r2, 'F', I18), txt(658, r2 + 10, 'yw', I13));
g.push(patch(743, r2, 67, 'rgba(0,0,255,0.2)'));
g.push(txt(815, r2, 'F', I18), txt(827, r2 + 10, 'yw', I13), txt(846, r2, '±SE', I18));

const chart = echarts.init(document.getElementById('c'), null, {renderer: 'canvas'});
chart.setOption({animation: false, backgroundColor: '#fff', grid: grid, xAxis: xAxis, yAxis: yAxis,
  series: series, graphic: {elements: g}});
</script></body></html>
